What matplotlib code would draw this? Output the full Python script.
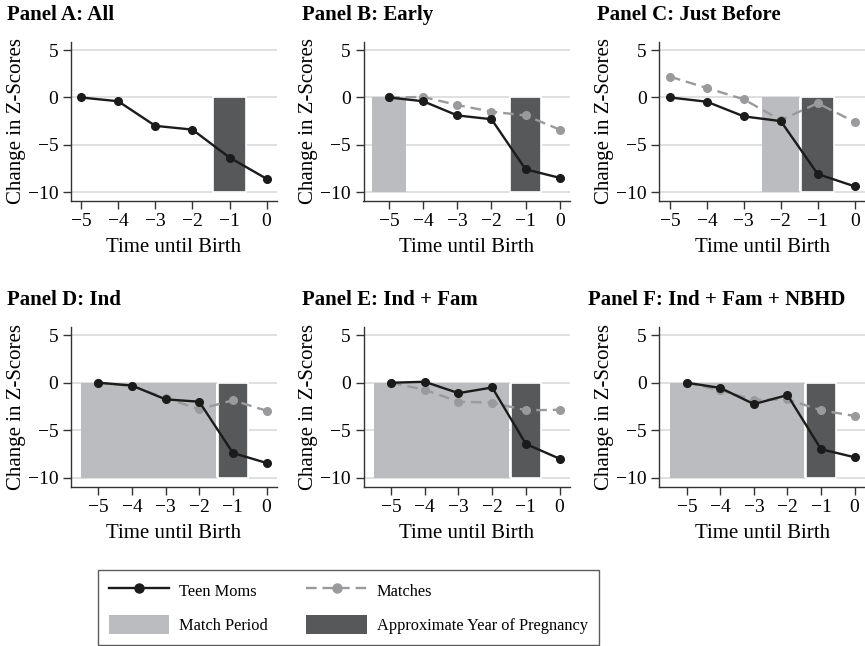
import numpy as np
import matplotlib
matplotlib.use("Agg")
import matplotlib.pyplot as plt
from matplotlib.lines import Line2D
from matplotlib.patches import Patch

plt.rcParams['font.family'] = ['Liberation Serif', 'DejaVu Serif']
plt.rcParams['axes.unicode_minus'] = True

# data
years = [-5, -4, -3, -2, -1, 0]

teen_a = [0, -0.4, -3.0, -3.4, -6.35, -8.6]
teen_b = [0, -0.4, -1.9, -2.3, -7.6, -8.5]
match_b = [0, 0.05, -0.8, -1.5, -1.9, -3.4]
teen_c = [0, -0.45, -2.0, -2.5, -8.1, -9.4]
match_c = [2.2, 1.0, -0.2, -2.4, -0.6, -2.6]
teen_d = [0, -0.3, -1.75, -2.0, -7.4, -8.45]
match_d = [0, -0.35, -1.6, -2.8, -1.85, -2.95]
teen_e = [0, 0.1, -1.1, -0.5, -6.45, -8.0]
match_e = [0, -0.75, -2.0, -2.1, -2.9, -2.85]
teen_f = [0, -0.55, -2.25, -1.3, -7.0, -7.85]
match_f = [0, -0.8, -1.8, -1.75, -2.9, -3.5]

titles = ["Panel A: All", "Panel B: Early", "Panel C: Just Before",
          "Panel D: Ind", "Panel E: Ind + Fam", "Panel F: Ind + Fam + NBHD"]
match_years = [[], [-5], [-2], [-5, -4, -3, -2], [-5, -4, -3, -2], [-5, -4, -3, -2]]
preg_years = [-1]
teens = [teen_a, teen_b, teen_c, teen_d, teen_e, teen_f]
matches = [None, match_b, match_c, match_d, match_e, match_f]

BLACK = "#1b1b1b"
GRAY = "#9a9a9c"
LIGHT = "#bbbcbf"
DARK = "#57585a"
GRID = "#dadada"

W, H = 865, 646
fig = plt.figure(figsize=(W / 100, H / 100), dpi=100)

cols = [(70.7, 277), (363.5, 570), (659.3, 865)]
rows = [(41.7, 201), (326.7, 486.7)]
xlims = [(-5.28, 0.28), (-5.75, 0.3), (-5.29, 0.28),
         (-5.82, 0.31), (-5.82, 0.31), (-5.82, 0.31)]
title_x = [7, 302, 597, 7, 302, 588]
title_y = [15, 300]

for i in range(6):
    r, c = divmod(i, 3)
    x0, x1 = cols[c]
    y0, y1 = rows[r]
    ax = fig.add_axes([x0 / W, 1 - y1 / H, (x1 - x0) / W, (y1 - y0) / H])
    ax.set_axisbelow(True)
    ax.set_xlim(*xlims[i])
    ax.set_ylim(-10.95, 5.9)

    # match period (light) and pregnancy year (dark) bars
    if match_years[i]:
        ax.bar(match_years[i], [10] * len(match_years[i]), bottom=-10, width=1.0,
               color=LIGHT, linewidth=0, zorder=1)
    ax.bar(preg_years, [10], bottom=-10, width=0.9, color=DARK,
           edgecolor="white", linewidth=1.2, zorder=2)

    if matches[i] is not None:
        ax.plot(years, matches[i], color=GRAY, lw=1.7, dashes=(4.5, 2.5),
                marker="o", ms=5.5, zorder=3)
    ax.plot(years, teens[i], color=BLACK, lw=1.7, marker="o", ms=5.5, zorder=4)

    ax.set_yticks([-10, -5, 0, 5])
    ax.set_xticks(years)
    ax.grid(axis="y", color=GRID, lw=1.2)
    for s in ["top", "right"]:
        ax.spines[s].set_visible(False)
    for s in ["left", "bottom"]:
        ax.spines[s].set_color("#333333")
        ax.spines[s].set_linewidth(1.0)
    ax.tick_params(axis="both", labelsize=14, length=6, width=1.0, color="#333333", pad=3)
    ax.set_ylabel("Change in Z-Scores", fontsize=15, va="center")
    ax.yaxis.set_label_coords(-0.265, 0.5)
    ax.set_xlabel("Time until Birth", fontsize=15, va="center")
    ax.xaxis.set_label_coords(0.5, -0.295)

    fig.text(title_x[i] / W, 1 - title_y[r] / H, titles[i], fontsize=15,
             fontweight="bold", ha="left", va="center")

handles = [
    Line2D([], [], color=BLACK, lw=1.7, marker="o", ms=6.5),
    Patch(facecolor=LIGHT, edgecolor="none"),
    Line2D([], [], color=GRAY, lw=1.7, dashes=(4.5, 2.5), marker="o", ms=6.5),
    Patch(facecolor=DARK, edgecolor="none"),
]
labels = ["Teen Moms", "Match Period", "Matches", "Approximate Year of Pregnancy"]
leg = fig.legend(handles, labels, ncol=2, loc="lower left",
                 bbox_to_anchor=(98 / W, 1 / H), fontsize=11.8, frameon=True,
                 fancybox=False, edgecolor="#333333", handlelength=3.7,
                 handleheight=1.4, columnspacing=2.35, handletextpad=0.6,
                 borderpad=0.65, labelspacing=0.95, borderaxespad=0)
leg.get_frame().set_linewidth(1.0)

fig.savefig("out.png", dpi=100)
